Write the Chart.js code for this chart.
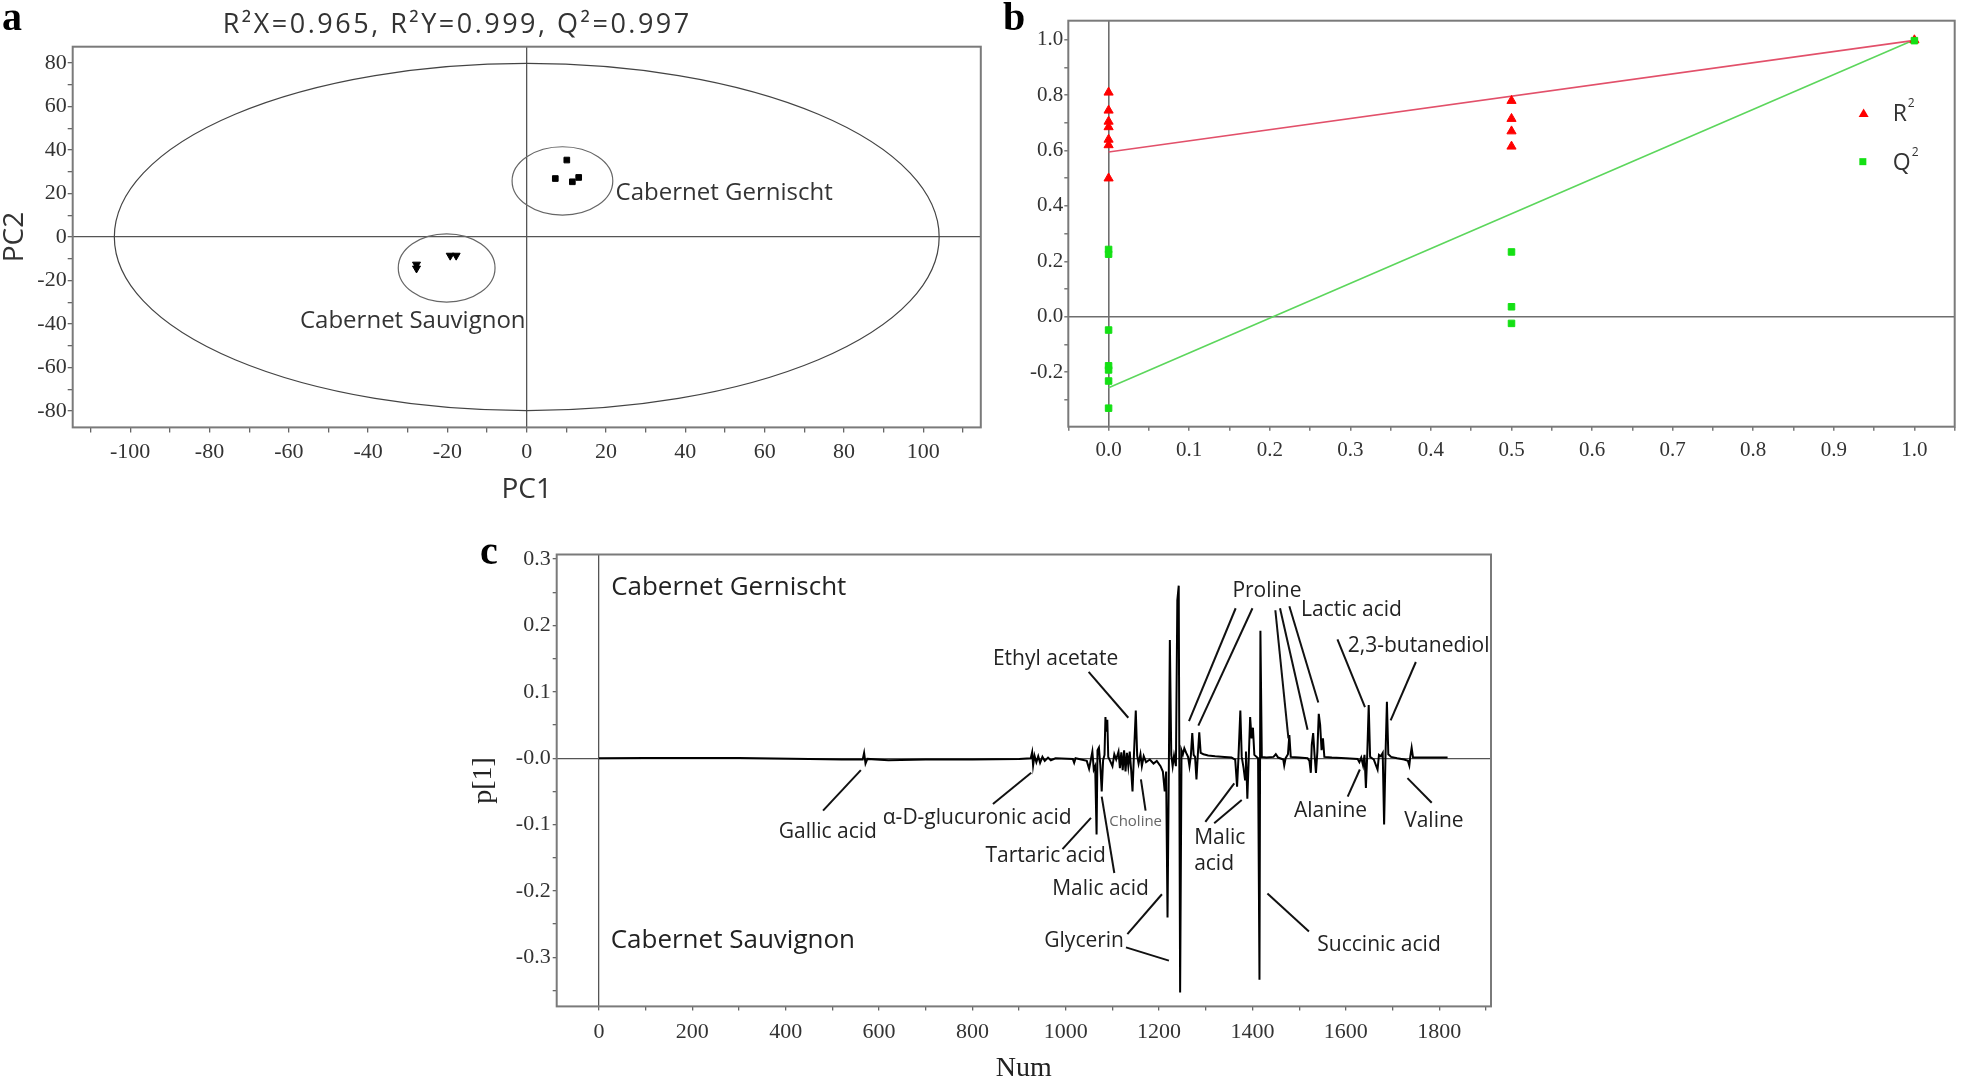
<!DOCTYPE html>
<html><head><meta charset="utf-8">
<script src="https://cdn.jsdelivr.net/npm/chart.js@4.4.1/dist/chart.umd.min.js"></script>
<style>
html,body{margin:0;padding:0;background:#fff;overflow:hidden;width:1961px;height:1083px;}
canvas{position:absolute;}
</style></head><body>
<canvas id="ca" width="995" height="510" style="left:0;top:0;width:995px;height:510px"></canvas>
<canvas id="cb" width="961" height="470" style="left:1000px;top:0;width:961px;height:470px"></canvas>
<canvas id="cc" width="1030" height="553" style="left:470px;top:530px;width:1030px;height:553px"></canvas>
<script>
// ---------------- Panel a : PCA scores ----------------
const gernischtPC1 = [10.1, 7.2, 11.5, 13.1];
const gernischtPC2 = [35.4, 26.9, 25.4, 27.4];
const sauvignonPC1 = [-27.8, -27.8, -19.3, -17.8];
const sauvignonPC2 = [-12.6, -14.4, -8.5, -8.5];
const hotellingAB = [104, 79.8];                 // semi-axes of T2 ellipse (PC1, PC2)
const groupCircleGernischt = [9, 25.8, 12.7, 15.7];   // cx, cy, rx, ry in PC units
const groupCircleSauvignon = [-20.2, -14.2, 12.2, 15.7];
const pcaTitle = 'R\u00B2X=0.965, R\u00B2Y=0.999, Q\u00B2=0.997';

// ---------------- Panel b : permutation test ----------------
const r2Corr = [0,0,0,0,0,0,0, 0.5,0.5,0.5,0.5, 1.0];
const r2Vals = [0.81,0.745,0.705,0.685,0.64,0.62,0.50, 0.78,0.715,0.67,0.615, 0.999];
const q2Corr = [0,0,0,0,0,0,0, 0.5,0.5,0.5, 1.0];
const q2Vals = [0.243,0.226,-0.048,-0.177,-0.192,-0.232,-0.33, 0.234,0.036,-0.024, 0.997];
const fitCorr = [0, 1];
const r2Fit = [0.595, 0.998];
const q2Fit = [-0.256, 1.0];

// ---------------- Panel c : loading plot p[1] ----------------
const numAxisTicks = [0,100,200,300,400,500,600,700,800,900,1000,1100,1200,1300,1400,1500,1600,1700,1800,1900];
const loadingNum = [0,100,300,450,520,565,568,571,575,620,700,800,900,925,928,930,933,937,941,945,950,955,962,968,978,
1015,1018,1021,1045,1050,1053,1057,1060,1063,1066,1068,1071,1074,1077,1080,1083,1085,1087,1089,1091,1095,1100,1104,1108,
1113,1116,1119,1122,1125,1128,1131,1134,1137,1140,1143,1146,1150,1153,1156,1160,1163,1167,1172,1180,1188,1195,1203,1208,
1212,1215,1218,1221,1223,1226,1229,1232,1236,1239,1242,1245,1248,1251,1254,1258,1262,1265,1268,1271,1274,1277,1280,1283,
1286,1289,1295,1305,1320,1340,1355,1363,1367,1370,1374,1377,1381,1384,1386,1389,1392,1395,1398,1401,1404,1412,1415,1417,
1420,1430,1445,1450,1455,1466,1468,1471,1476,1479,1482,1500,1518,1522,1525,1527,1530,1533,1536,1539,1542,1545,1548,1551,
1554,1570,1600,1625,1629,1633,1637,1640,1643,1646,1649,1652,1660,1668,1671,1675,1679,1682,1685,1688,1691,1697,1710,1725,
1733,1736,1738,1741,1744,1760,1818];
const loadingP1 = [0,0.0005,0.0003,-0.001,-0.002,-0.002,0.008,-0.008,-0.001,-0.003,-0.002,-0.002,-0.001,0,0.009,-0.011,0.004,-0.006,0.003,-0.007,0.002,-0.004,0.001,-0.003,0,
-0.001,-0.007,0,-0.004,-0.016,-0.005,0.01,-0.017,-0.012,-0.115,0.012,0.016,-0.01,-0.05,-0.003,0.005,0.062,0.04,0.058,0.002,-0.004,-0.012,0.006,-0.002,
0.01,-0.015,0.009,-0.018,0.012,-0.02,0.008,-0.012,0.01,-0.017,-0.05,0.004,0.072,0.004,-0.008,0.006,-0.012,0.003,-0.006,-0.002,-0.008,-0.004,-0.012,-0.02,
-0.05,-0.02,-0.24,0,0.178,0.005,-0.012,0.004,-0.012,0.238,0.26,-0.353,0.012,0.006,0.015,0.008,0.002,-0.012,0.004,0.038,0.005,0.002,-0.032,0.006,
0.039,0.008,0.006,0.004,0.003,0.002,0.001,-0.002,-0.043,0.002,0.072,0.002,-0.015,-0.032,0.01,-0.061,0,0.062,0.03,0.046,0.005,0,-0.334,0.192,
0.002,0.001,0.002,0.006,0.001,-0.002,-0.011,0,0.006,0.035,0.002,0.001,0,-0.004,-0.022,0.02,0.038,0.005,-0.022,0.01,0.067,0.05,0.012,0.03,
0.002,0.001,0,-0.001,-0.006,0.001,-0.011,0.005,-0.045,0.008,0.08,0.002,-0.002,-0.017,0.005,0.003,0.008,-0.1,0.004,0.085,0.006,0.002,0,-0.002,
-0.004,-0.011,0.002,0.016,0.001,0.001,0.001];

// annotation config (data units of panel c)
const compoundLabels = [
  ['Gallic acid', 385, -0.111], ['\u03B1-D-glucuronic acid', 608, -0.090], ['Tartaric acid', 828, -0.148],
  ['Malic acid', 971, -0.197], ['Ethyl acetate', 844, 0.150], ['Glycerin', 954, -0.275],
  ['Proline', 1357, 0.252], ['Lactic acid', 1504, 0.223], ['2,3-butanediol', 1604, 0.169],
  ['Malic', 1275, -0.121], ['acid', 1275, -0.159], ['Alanine', 1489, -0.079],
  ['Valine', 1725, -0.094], ['Succinic acid', 1539, -0.282]
];
const leaderLines = [
  [480,-0.079,561,-0.018],[844,-0.069,926,-0.022],[993,-0.137,1054,-0.090],[1104,-0.173,1077,-0.058],
  [1171,-0.079,1161,-0.032],[1049,0.130,1134,0.061],[1132,-0.265,1206,-0.205],[1129,-0.285,1221,-0.305],
  [1364,0.226,1264,0.056],[1400,0.226,1284,0.049],[1449,0.223,1477,0.030],[1459,0.226,1518,0.043],
  [1479,0.229,1541,0.084],[1582,0.179,1641,0.077],[1750,0.145,1696,0.057],[1299,-0.096,1361,-0.038],
  [1318,-0.098,1377,-0.063],[1604,-0.058,1630,-0.017],[1784,-0.067,1732,-0.030],[1521,-0.261,1432,-0.204]
];

const zip = (xs, ys) => xs.map((x, i) => ({x: x, y: ys[i]}));
const SERIF = '"Liberation Serif", "Times New Roman", serif';
const SANS = '"Open Sans", "Noto Sans", sans-serif';
const isZero = v => Math.abs(v) < 1e-9;
const zeroGrid = (col, lw, tl) => ({
  color: c => (c.tick && isZero(c.tick.value)) ? col : 'rgba(0,0,0,0)',
  lineWidth: lw, drawTicks: true, tickLength: tl, tickColor: '#666', tickWidth: 1.3
});
function frame(chart, col, lw) {
  const a = chart.chartArea, ctx = chart.ctx;
  ctx.save(); ctx.strokeStyle = col; ctx.lineWidth = lw;
  ctx.strokeRect(a.left, a.top, a.right - a.left, a.bottom - a.top); ctx.restore();
}
function dataText(chart, s, x, y, font, col, align, base) {
  const ctx = chart.ctx;
  ctx.save(); ctx.font = font; ctx.fillStyle = col; ctx.textAlign = align || 'left';
  ctx.textBaseline = base || 'middle';
  ctx.fillText(s, chart.scales.x.getPixelForValue(x), chart.scales.y.getPixelForValue(y));
  ctx.restore();
}
function panelLetter(chart, s, x, y) {
  const ctx = chart.ctx;
  ctx.save(); ctx.font = 'bold 40px ' + SERIF; ctx.fillStyle = '#000'; ctx.textBaseline = 'alphabetic';
  ctx.fillText(s, x, y); ctx.restore();
}
const baseOpts = {responsive: false, animation: false, devicePixelRatio: 1,
  plugins: {legend: {display: false}, tooltip: {enabled: false}}};

// ---------------- Chart a ----------------
new Chart(document.getElementById('ca'), {
  type: 'scatter',
  data: {datasets: [
    {label: 'Cabernet Gernischt', data: zip(gernischtPC1, gernischtPC2), pointStyle: 'rect', pointRadius: 4,
     backgroundColor: '#000', borderColor: '#000', pointBorderWidth: 1},
    {label: 'Cabernet Sauvignon', data: zip(sauvignonPC1, sauvignonPC2), pointStyle: 'triangle', pointRotation: 180,
     pointRadius: 4.6, backgroundColor: '#000', borderColor: '#000', pointBorderWidth: 1}
  ]},
  options: Object.assign({}, baseOpts, {
    layout: {padding: {left: 0, top: 46.7, right: 14.2, bottom: 0}},
    scales: {
      x: {type: 'linear', min: -114.5, max: 114.5,
        ticks: {stepSize: 10, includeBounds: false, autoSkip: false, maxRotation: 0, minRotation: 0, padding: 6.7,
          color: '#333', font: {family: SERIF, size: 22},
          callback: v => (Math.round(v) % 20 === 0 ? String(Math.round(v)) : '')},
        grid: zeroGrid('#555', 1.3, 5), border: {display: false},
        title: {display: true, text: 'PC1', color: '#333', font: {family: SANS, size: 28, lineHeight: 1}, padding: {top: 0, bottom: 6}},
        afterFit: s => { s.height = 82.6; s.paddingLeft = 0; s.paddingRight = 0; }},
      y: {type: 'linear', min: -87.5, max: 87.5,
        ticks: {stepSize: 10, includeBounds: false, autoSkip: false, padding: 1,
          color: '#333', font: {family: SERIF, size: 22},
          callback: v => (Math.round(v) % 20 === 0 ? String(Math.round(v)) : '')},
        grid: zeroGrid('#555', 1.3, 5), border: {display: false},
        title: {display: true, text: 'PC2', color: '#333', font: {family: SANS, size: 28, lineHeight: 1}, padding: {top: 1, bottom: 0}},
        afterFit: s => { s.width = 72.7; s.paddingTop = 0; s.paddingBottom = 0; }}
    }
  }),
  plugins: [{
    id: 'pcaDecor',
    beforeDatasetsDraw(chart) {
      frame(chart, '#7a7a7a', 2);
      const ctx = chart.ctx, xs = chart.scales.x, ys = chart.scales.y;
      const ell = (cx, cy, rx, ry) => {
        const px = xs.getPixelForValue(cx), py = ys.getPixelForValue(cy);
        ctx.beginPath();
        ctx.ellipse(px, py, Math.abs(xs.getPixelForValue(cx + rx) - px), Math.abs(py - ys.getPixelForValue(cy + ry)), 0, 0, Math.PI * 2);
        ctx.stroke();
      };
      ctx.save(); ctx.strokeStyle = '#444'; ctx.lineWidth = 1.2;
      ell(0, 0, hotellingAB[0], hotellingAB[1]);
      ctx.strokeStyle = '#666';
      ell(groupCircleGernischt[0], groupCircleGernischt[1], groupCircleGernischt[2], groupCircleGernischt[3]);
      ell(groupCircleSauvignon[0], groupCircleSauvignon[1], groupCircleSauvignon[2], groupCircleSauvignon[3]);
      ctx.restore();
    },
    afterDatasetsDraw(chart) {
      dataText(chart, 'Cabernet Gernischt', 22.4, 17.1, '24px ' + SANS, '#333', 'left', 'alphabetic');
      dataText(chart, 'Cabernet Sauvignon', -0.3, -41.8, '24px ' + SANS, '#333', 'right', 'alphabetic');
    },
    afterDraw(chart) {
      const ctx = chart.ctx;
      ctx.save(); ctx.font = '27px ' + SANS; ctx.fillStyle = '#333'; ctx.textBaseline = 'alphabetic';
      ctx.letterSpacing = '2.5px';
      ctx.fillText(pcaTitle, 222.7, 33.3); ctx.restore();
      panelLetter(chart, 'a', 2, 30);
    }
  }]
});

// ---------------- Chart b ----------------
new Chart(document.getElementById('cb'), {
  type: 'scatter',
  data: {datasets: [
    {label: 'Q2', data: zip(q2Corr, q2Vals), pointStyle: 'rect', pointRadius: 4.6, backgroundColor: '#14e014',
     borderColor: '#14e014', pointBorderWidth: 1, order: 1},
    {label: 'R2', data: zip(r2Corr, r2Vals), pointStyle: 'triangle', pointRadius: 5.3, backgroundColor: '#ff0000',
     borderColor: '#ff0000', pointBorderWidth: 1, order: 2},
    {label: 'R2 fit', data: zip(fitCorr, r2Fit), showLine: true, pointRadius: 0, borderColor: '#e2506a', borderWidth: 1.6, order: 3},
    {label: 'Q2 fit', data: zip(fitCorr, q2Fit), showLine: true, pointRadius: 0, borderColor: '#5cd65c', borderWidth: 1.6, order: 4}
  ]},
  options: Object.assign({}, baseOpts, {
    layout: {padding: {left: 0, top: 20.7, right: 1.7, bottom: 0}},
    scales: {
      x: {type: 'linear', min: -0.05, max: 1.05,
        ticks: {stepSize: 0.05, includeBounds: false, autoSkip: false, maxRotation: 0, minRotation: 0, padding: 6.7,
          color: '#333', font: {family: SERIF, size: 21},
          callback: v => { const r = Math.round(v * 100); return r % 10 === 0 ? (r / 100).toFixed(1) : ''; }},
        grid: zeroGrid('#6e6e6e', 1.6, 4), border: {display: false},
        afterFit: s => { s.height = 43.3; s.paddingLeft = 0; s.paddingRight = 0; }},
      y: {type: 'linear', min: -0.397, max: 1.069,
        ticks: {stepSize: 0.1, includeBounds: false, autoSkip: false, padding: 1,
          color: '#333', font: {family: SERIF, size: 21},
          callback: v => { const r = Math.round(v * 10); return r % 2 === 0 ? (r / 10).toFixed(1) : ''; }},
        grid: zeroGrid('#6e6e6e', 1.6, 4), border: {display: false},
        afterFit: s => { s.width = 68.3; s.paddingTop = 0; s.paddingBottom = 0; }}
    }
  }),
  plugins: [{
    id: 'permDecor',
    beforeDatasetsDraw(chart) { frame(chart, '#7a7a7a', 2); },
    afterDatasetsDraw(chart) {
      const ctx = chart.ctx, xs = chart.scales.x, ys = chart.scales.y;
      let px = xs.getPixelForValue(0.937), py = ys.getPixelForValue(0.734);
      ctx.save(); ctx.fillStyle = '#ff0000';
      ctx.beginPath(); ctx.moveTo(px, py - 5); ctx.lineTo(px + 5, py + 3.5); ctx.lineTo(px - 5, py + 3.5); ctx.closePath(); ctx.fill();
      px = xs.getPixelForValue(0.936); py = ys.getPixelForValue(0.56);
      ctx.fillStyle = '#14e014'; ctx.fillRect(px - 3.5, py - 3.5, 7, 7);
      ctx.fillStyle = '#333'; ctx.textBaseline = 'alphabetic';
      const tx = xs.getPixelForValue(0.973);
      ctx.font = '23px ' + SANS;
      ctx.fillText('R', tx, ys.getPixelForValue(0.734) + 8);
      ctx.fillText('Q', tx, ys.getPixelForValue(0.56) + 8);
      ctx.font = '12px ' + SANS;
      ctx.fillText('2', tx + 15, ys.getPixelForValue(0.734) - 6);
      ctx.fillText('2', tx + 19, ys.getPixelForValue(0.56) - 6);
      ctx.restore();
    },
    afterDraw(chart) { panelLetter(chart, 'b', 3, 30); }
  }]
});

// ---------------- Chart c ----------------
new Chart(document.getElementById('cc'), {
  type: 'scatter',
  data: {datasets: [
    {label: 'p[1]', data: zip(loadingNum, loadingP1), showLine: true, pointRadius: 0, borderColor: '#000', borderWidth: 2}
  ]},
  options: Object.assign({}, baseOpts, {
    layout: {padding: {left: 0, top: 24.5, right: 9, bottom: 0}},
    scales: {
      x: {type: 'linear', min: -90.6, max: 1911,
        afterBuildTicks: s => { s.ticks = numAxisTicks.map(v => ({value: v})); },
        ticks: {autoSkip: false, maxRotation: 0, minRotation: 0, padding: 9,
          color: '#333', font: {family: SERIF, size: 22},
          callback: v => (Math.round(v) % 200 === 0 ? String(Math.round(v)) : '')},
        grid: zeroGrid('#555', 1.3, 4), border: {display: false},
        title: {display: true, text: 'Num', color: '#222', font: {family: SERIF, size: 28, lineHeight: 1}, padding: {top: 0, bottom: 0}},
        afterFit: s => { s.height = 76.6; s.paddingLeft = 0; s.paddingRight = 0; }},
      y: {type: 'linear', min: -0.374, max: 0.307,
        ticks: {stepSize: 0.05, includeBounds: false, autoSkip: false, padding: 2,
          color: '#333', font: {family: SERIF, size: 22},
          callback: v => { const r = Math.round(v * 100); if (r % 10 !== 0) return ''; return r === 0 ? '-0.0' : (r / 100).toFixed(1); }},
        grid: zeroGrid('#555', 1.3, 4), border: {display: false},
        title: {display: true, text: 'p[1]', color: '#222', font: {family: SERIF, size: 28, lineHeight: 1}, padding: {top: 0, bottom: 0}},
        afterFit: s => { s.width = 86.7; s.paddingTop = 0; s.paddingBottom = 0; }}
    }
  }),
  plugins: [{
    id: 'loadDecor',
    beforeDatasetsDraw(chart) { frame(chart, '#7a7a7a', 2); },
    afterDatasetsDraw(chart) {
      const ctx = chart.ctx, xs = chart.scales.x, ys = chart.scales.y;
      ctx.save(); ctx.strokeStyle = '#111'; ctx.lineWidth = 2;
      leaderLines.forEach(l => {
        ctx.beginPath();
        ctx.moveTo(xs.getPixelForValue(l[0]), ys.getPixelForValue(l[1]));
        ctx.lineTo(xs.getPixelForValue(l[2]), ys.getPixelForValue(l[3]));
        ctx.stroke();
      });
      ctx.restore();
      compoundLabels.forEach(t => dataText(chart, t[0], t[1], t[2], '21px ' + SANS, '#222', 'left', 'middle'));
      dataText(chart, 'Choline', 1093, -0.096, '15px ' + SANS, '#666', 'left', 'middle');
      dataText(chart, 'Cabernet Gernischt', 26, 0.246, '26px ' + SANS, '#222', 'left', 'alphabetic');
      dataText(chart, 'Cabernet Sauvignon', 25, -0.2855, '26px ' + SANS, '#222', 'left', 'alphabetic');
    },
    afterDraw(chart) { panelLetter(chart, 'c', 10, 34); }
  }]
});
</script></body></html>
